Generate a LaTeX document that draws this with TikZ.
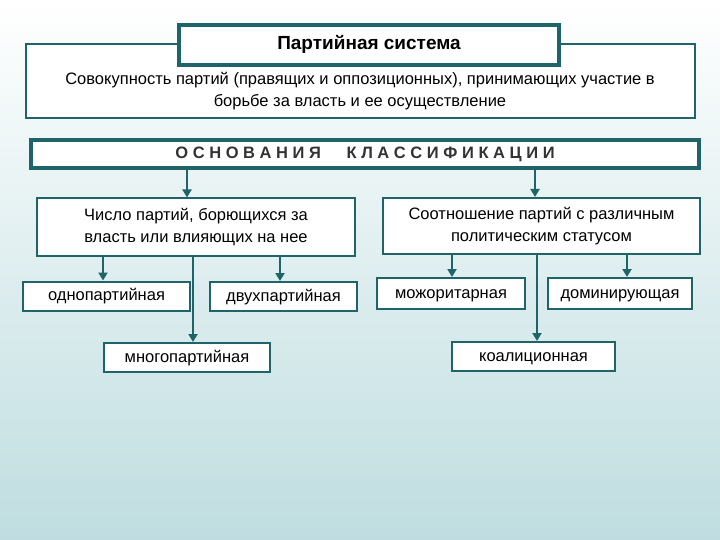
\documentclass[tikz,border=0pt]{standalone}
\usepackage{fontspec}
\setmainfont{Liberation Sans}
\usetikzlibrary{arrows.meta}
\definecolor{tl}{HTML}{1E6468}
\definecolor{bgb}{HTML}{BFDDE0}
\tikzset{
 bx/.style={draw=tl,line width=2pt,fill=white,inner sep=0pt,font=\fontsize{16.5}{22}\selectfont,align=center},
 one/.style={bx,text height=12pt,text depth=3pt},
 con/.style={draw=tl,line width=2.8pt,-{Triangle[length=8pt,width=9pt]}}
}
\begin{document}
\begin{tikzpicture}[x=1pt,y=-1pt]
\shade[top color=white,bottom color=bgb] (0,0) rectangle (720,540);
\useasboundingbox (0,0) rectangle (720,540);
\node[bx,minimum width=669pt,minimum height=74pt] (def) at (360.5,81) {};
\node[font=\fontsize{16.5}{22}\selectfont,align=center] (deft) at (360,91) {Совокупность партий (правящих и оппозиционных), принимающих участие в\\борьбе за власть и ее осуществление};
\node[one,line width=4pt,minimum width=380pt,minimum height=40pt,font=\fontsize{19}{22}\selectfont\bfseries,text height=14pt,text depth=4pt] (title) at (369,45) {Партийная система};
\node[one,line width=4pt,minimum width=668pt,minimum height=28pt,font=\fontsize{16.5}{20}\selectfont\bfseries,text=black!80] (bar) at (365,154.5) {О С Н О В А Н И Я \quad\ К Л А С С И Ф И К А Ц И И};
\node[bx,minimum width=318pt,minimum height=57pt] (L) at (196,227) {Число партий, борющихся за\\власть или влияющих на нее};
\node[bx,minimum width=317pt,minimum height=56pt] (R) at (541.5,226) {Соотношение партий с различным\\политическим статусом};
\node[one,minimum width=167pt,minimum height=29pt] (o1) at (106.5,296) {однопартийная};
\node[one,minimum width=147pt,minimum height=29pt] (o2) at (283.5,296.5) {двухпартийная};
\node[one,minimum width=166pt,minimum height=29pt] (o3) at (187,357.5) {многопартийная};
\node[one,minimum width=148pt,minimum height=31pt] (r1) at (451,293.5) {можоритарная};
\node[one,minimum width=144pt,minimum height=31pt] (r2) at (620,293.5) {доминирующая};
\node[one,minimum width=163pt,minimum height=29pt] (r3) at (533.5,356.5) {коалиционная};
\draw[con] (bar.south -| 187,0) -- (L.north -| 187,0);
\draw[con] (bar.south -| 535,0) -- (R.north -| 535,0);
\draw[con] (L.south -| 103,0) -- (o1.north -| 103,0);
\draw[con] (L.south -| 280,0) -- (o2.north -| 280,0);
\draw[con] (L.south -| 193,0) -- (o3.north -| 193,0);
\draw[con] (R.south -| 452,0) -- (r1.north -| 452,0);
\draw[con] (R.south -| 627,0) -- (r2.north -| 627,0);
\draw[con] (R.south -| 537,0) -- (r3.north -| 537,0);
\end{tikzpicture}
\end{document}
